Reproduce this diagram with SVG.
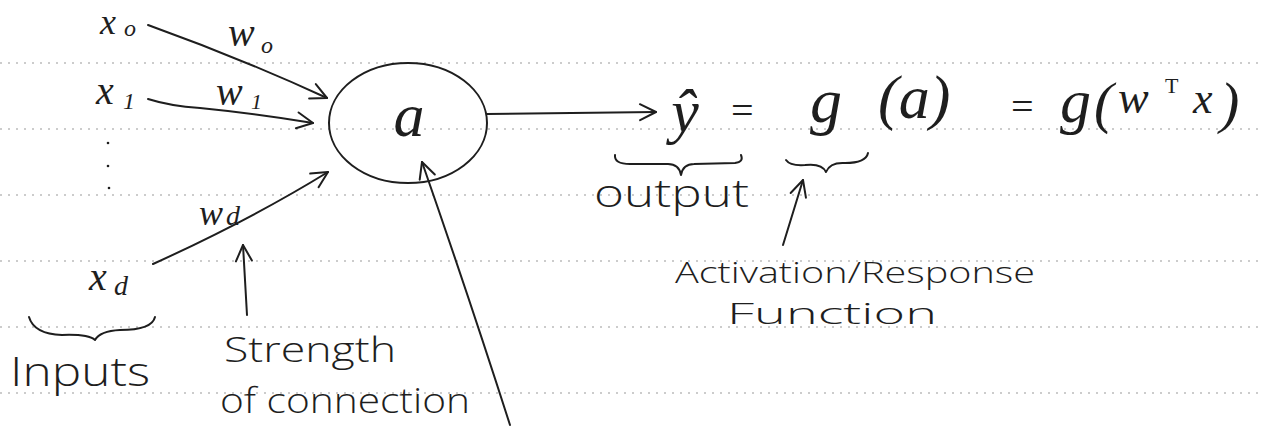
<svg xmlns="http://www.w3.org/2000/svg" width="1262" height="439" viewBox="0 0 1262 439">
  <style>
    .rule { stroke: #9a9a9a; stroke-width: 1.2; stroke-dasharray: 2 6; fill: none; }
    .ink { stroke: #1e1e1e; stroke-width: 2; fill: none; stroke-linecap: round; stroke-linejoin: round; }
    .math { font-family: "Liberation Serif", "DejaVu Serif", serif; font-style: italic; fill: #1e1e1e; }
    .sub { font-family: "Liberation Serif", "DejaVu Serif", serif; font-style: italic; fill: #1e1e1e; }
    .up { font-family: "Liberation Serif", "DejaVu Serif", serif; font-style: normal; fill: #1e1e1e; }
    .word { font-family: "Open Sans", "Liberation Sans", sans-serif; font-weight: 300; fill: #1e1e1e; }
  </style>
  <defs>
    <marker id="open" viewBox="0 0 20 20" refX="18" refY="10" markerWidth="20" markerHeight="20" markerUnits="userSpaceOnUse" orient="auto">
      <polyline points="2,2 18,10 2,18" fill="none" stroke="#1e1e1e" stroke-width="2" stroke-linecap="round" stroke-linejoin="round"/>
    </marker>
  </defs>
  <rect width="1262" height="439" fill="#ffffff"/>
  <g id="paper-rules">
    <line class="rule" x1="0" y1="63" x2="1262" y2="63"/>
    <line class="rule" x1="0" y1="129" x2="1262" y2="129"/>
    <line class="rule" x1="0" y1="195" x2="1262" y2="195"/>
    <line class="rule" x1="0" y1="261" x2="1262" y2="261"/>
    <line class="rule" x1="0" y1="327" x2="1262" y2="327"/>
    <line class="rule" x1="0" y1="393" x2="1262" y2="393"/>
  </g>

  <g id="connectors">
    <path class="ink" d="M148,25 Q240,58 327,98" marker-end="url(#open)"/>
    <path class="ink" d="M148,99 Q170,106 200,108 Q260,114 313,123" marker-end="url(#open)"/>
    <path class="ink" d="M153,264 Q250,220 328,172" marker-end="url(#open)"/>
    <path class="ink" d="M487,114 L656,112" marker-end="url(#open)"/>
    <path class="ink" d="M247,315 L243,245" marker-end="url(#open)"/>
    <path class="ink" d="M510,425 Q470,300 422,162" marker-end="url(#open)"/>
    <path class="ink" d="M783,245 L803,180" marker-end="url(#open)"/>
  </g>

  <g id="input-x0">
    <text class="math" x="100" y="34" font-size="36">x</text>
    <text class="sub" x="124" y="36" font-size="24">o</text>
  </g>
  <g id="input-x1">
    <text class="math" x="96" y="104" font-size="40">x</text>
    <text class="sub" x="123" y="109" font-size="24">1</text>
  </g>
  <g id="input-dots">
    <circle cx="108" cy="143" r="1.3" fill="#1e1e1e"/>
    <circle cx="108" cy="166" r="1.3" fill="#1e1e1e"/>
    <circle cx="109" cy="188" r="1.3" fill="#1e1e1e"/>
  </g>
  <g id="input-xd">
    <text class="math" x="89" y="290" font-size="40">x</text>
    <text class="sub" x="114" y="295" font-size="28">d</text>
  </g>

  <g id="weight-w0">
    <text class="math" x="228" y="46" font-size="40">w</text>
    <text class="sub" x="261" y="53" font-size="24">o</text>
  </g>
  <g id="weight-w1">
    <text class="math" x="216" y="105" font-size="40">w</text>
    <text class="sub" x="251" y="109" font-size="22">1</text>
  </g>
  <g id="weight-wd">
    <text class="math" x="199" y="225" font-size="36">w</text>
    <text class="sub" x="226" y="225" font-size="28">d</text>
  </g>

  <g id="neuron">
    <ellipse class="ink" cx="408" cy="123" rx="79" ry="60"/>
    <text class="math" x="409" y="136" font-size="62" text-anchor="middle">a</text>
  </g>

  <g id="output-equation">
    <text class="math" x="685" y="132" font-size="62" text-anchor="middle">ŷ</text>
    <text class="math" x="742" y="124" font-size="40" text-anchor="middle">=</text>
    <text class="math" x="826" y="122" font-size="64" text-anchor="middle">g</text>
    <text class="math" x="878" y="118" font-size="62">(a)</text>
    <text class="math" x="1022" y="120" font-size="40" text-anchor="middle">=</text>
    <text class="math" x="1060" y="122" font-size="62">g</text>
    <text class="math" x="1094" y="122" font-size="58">(</text>
    <text class="math" x="1118" y="113" font-size="46">w</text>
    <text class="up" x="1165" y="93" font-size="22">T</text>
    <text class="math" x="1193" y="113" font-size="44">x</text>
    <text class="math" x="1220" y="122" font-size="58">)</text>
  </g>

  <g id="brace-output">
    <path class="ink" d="M615,155 Q614,164 630,164 L668,164 Q679,164 681,175 Q683,164 694,164 L735,163 Q744,162 741,155"/>
    <text class="word" x="594" y="207" font-size="38" textLength="155" lengthAdjust="spacingAndGlyphs">output</text>
  </g>
  <g id="brace-activation">
    <path class="ink" d="M786,160 Q790,166 805,165 Q822,163 826,172 Q830,162 845,163 Q866,163 868,153"/>
    <text class="word" x="675" y="283" font-size="30" textLength="360" lengthAdjust="spacingAndGlyphs">Activation/Response</text>
    <text class="word" x="727" y="324" font-size="30" textLength="210" lengthAdjust="spacingAndGlyphs">Function</text>
  </g>
  <g id="brace-inputs">
    <path class="ink" d="M29,317 Q34,334 62,335 Q88,334 95,340 Q100,331 120,330 Q152,330 155,317"/>
    <text class="word" x="10" y="386" font-size="40" textLength="140" lengthAdjust="spacingAndGlyphs">Inputs</text>
  </g>
  <g id="label-strength">
    <text class="word" x="224" y="362" font-size="34" textLength="172" lengthAdjust="spacingAndGlyphs">Strength</text>
    <text class="word" x="220" y="413" font-size="34" textLength="250" lengthAdjust="spacingAndGlyphs">of connection</text>
  </g>
</svg>
